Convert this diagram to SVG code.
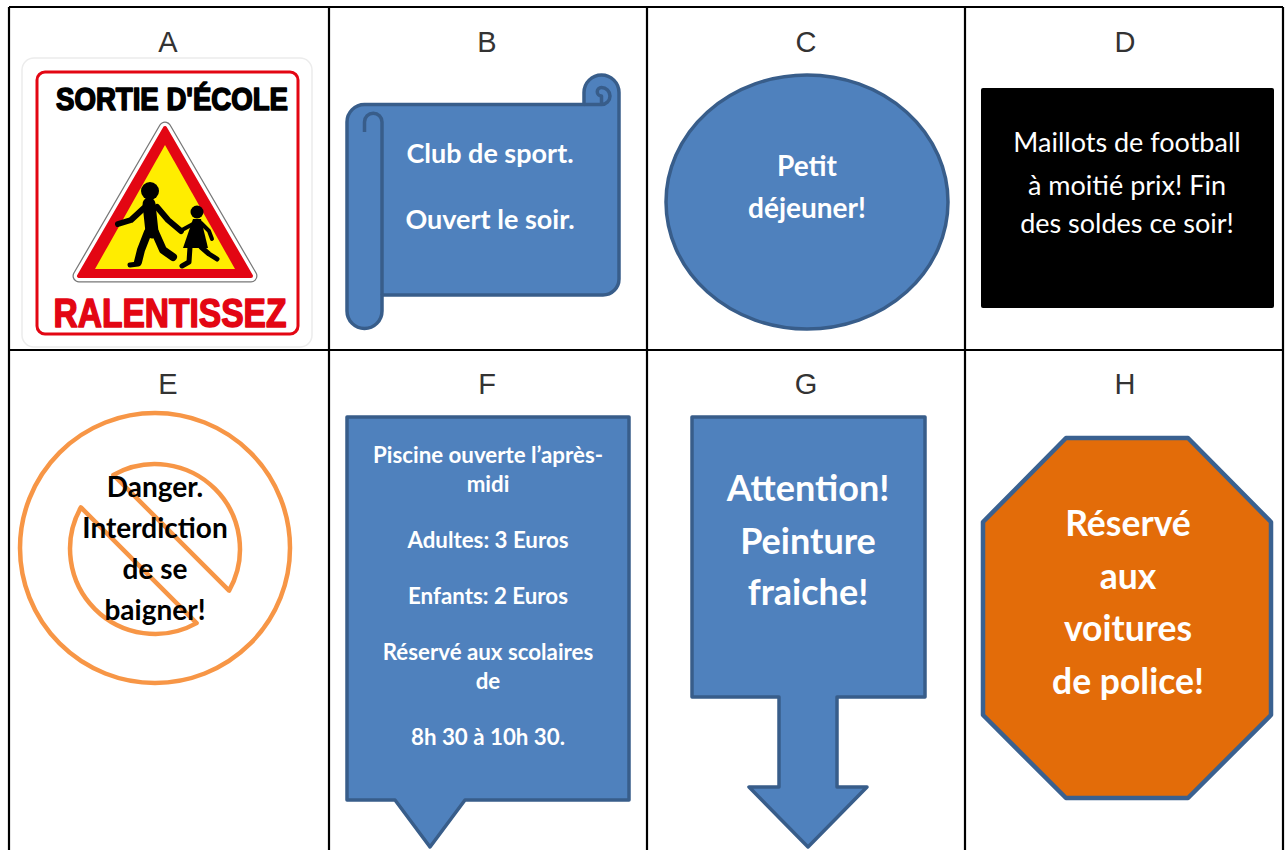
<svg xmlns="http://www.w3.org/2000/svg" width="1288" height="850" viewBox="0 0 1288 850">
<style>
.lbl{font-family:"Liberation Sans",Arial,sans-serif;font-size:29px;fill:#333;text-anchor:middle}
.cb{font-family:Lato,"Open Sans",sans-serif;font-weight:bold;text-anchor:middle}
.w{fill:#fff}
.blue{fill:#4f81bd;stroke:#385d8a;stroke-width:3.5;stroke-linejoin:round}
.grid{stroke:#000;stroke-width:2.2;fill:none}
.kid{stroke:#000;stroke-linecap:round;stroke-linejoin:round;fill:none}
</style>
<rect width="1288" height="850" fill="#fff"/>

<g id="grid" class="grid">
<path d="M9,7 H1283 M9,350 H1283 M9,7 V850 M329,7 V850 M647,7 V850 M965,7 V850 M1283,7 V850"/>
</g>

<g id="labels">
<text class="lbl" x="168" y="52">A</text>
<text class="lbl" x="487" y="52">B</text>
<text class="lbl" x="806" y="52">C</text>
<text class="lbl" x="1125" y="52">D</text>
<text class="lbl" x="168" y="394">E</text>
<text class="lbl" x="487" y="394">F</text>
<text class="lbl" x="806" y="394">G</text>
<text class="lbl" x="1125" y="394">H</text>
</g>

<g id="A">
<rect x="22" y="58" width="290" height="289" rx="12" fill="#fff" stroke="#ececec" stroke-width="1.5"/>
<rect x="37" y="72" width="261" height="262" rx="8" fill="#fff" stroke="#e30613" stroke-width="3"/>
<text x="172" y="110" font-family="'Liberation Sans',Arial,sans-serif" font-weight="bold" font-size="31" fill="#000" stroke="#000" stroke-width="1.6" stroke-linejoin="round" text-anchor="middle" textLength="232" lengthAdjust="spacingAndGlyphs">SORTIE D'ÉCOLE</text>
<polygon points="165,128 79,276 251,276" fill="#e30613" stroke="#777" stroke-width="13" stroke-linejoin="round"/>
<polygon points="165,128 79,276 251,276" fill="#e30613" stroke="#fff" stroke-width="10.5" stroke-linejoin="round"/>
<polygon points="165,128 79,276 251,276" fill="#e30613" stroke="#e30613" stroke-width="4" stroke-linejoin="round"/>
<polygon points="165,145 95,269 235,269" fill="#ffed00"/>
<circle cx="150" cy="191" r="9" fill="#000"/>
<path class="kid" stroke-width="13" d="M149,204 L152,232"/>
<path class="kid" stroke-width="6" d="M144,208 L131,220 L118,224"/>
<path class="kid" stroke-width="6" d="M157,207 L168,220 L181,231"/>
<path class="kid" stroke-width="8" d="M148,232 L141,250 L138,262"/>
<path class="kid" stroke-width="5" d="M138,264 L130,265"/>
<path class="kid" stroke-width="8" d="M155,232 L163,250 L173,257"/>
<circle cx="197" cy="212" r="6.5" fill="#000"/>
<path d="M193,219 L201,219 L208,248 L183,248 Z" fill="#000"/>
<path class="kid" stroke-width="4" d="M193,224 L182,230"/>
<path class="kid" stroke-width="4" d="M201,223 L209,231 L212,239"/>
<path class="kid" stroke-width="5" d="M190,247 L189,262 L182,266"/>
<path class="kid" stroke-width="5" d="M201,247 L209,254 L217,259"/>
<text x="170" y="327" font-family="'Liberation Sans',Arial,sans-serif" font-weight="bold" font-size="41" fill="#e30613" stroke="#e30613" stroke-width="1.6" stroke-linejoin="round" text-anchor="middle" textLength="233" lengthAdjust="spacingAndGlyphs">RALENTISSEZ</text>
</g>

<g id="B">
<path class="blue" d="M347,122 A17.5,17.5 0 0 1 364.5,104.5 L584,104.5 L584,92.5 A17.5,17.5 0 0 1 619,92.5 L619,279 A16,16 0 0 1 603,295 L382,295 L382,311 A17.5,17.5 0 0 1 347,311 Z"/>
<path d="M382,122 L382,295 M364.5,132 L364.5,122 A8.75,8.75 0 0 1 382,122 M584,104.5 L601.5,104.5 A8.5,8.5 0 0 0 601.5,87.5 A4.2,4.2 0 0 0 601.5,96 L601.5,104.5" fill="none" stroke="#385d8a" stroke-width="3.5" stroke-linejoin="round"/>
<text class="cb w" font-size="27" x="490" y="163">Club de sport.</text>
<text class="cb w" font-size="27" x="490" y="229">Ouvert le soir.</text>
</g>

<g id="C">
<ellipse class="blue" cx="807" cy="202" rx="141" ry="127"/>
<text class="cb w" font-size="28" x="807" y="176">Petit</text>
<text class="cb w" font-size="28" x="807" y="218">déjeuner!</text>
</g>

<g id="D">
<rect x="981" y="88" width="293" height="220" rx="2" fill="#000"/>
<g font-family="Lato,'Open Sans',sans-serif" font-size="27" fill="#fff" text-anchor="middle">
<text x="1127" y="152">Maillots de football</text>
<text x="1127" y="195">à moitié prix! Fin</text>
<text x="1127" y="233">des soldes ce soir!</text>
</g>
</g>

<g id="E">
<g fill="none" stroke="#f79646" stroke-width="4.5" stroke-linejoin="round">
<circle cx="155" cy="548" r="135"/>
<path d="M113.4,474.9 A85,85 0 0 1 229.1,590.6 Z"/>
<path d="M196.6,623.1 A85,85 0 0 1 80.9,507.4 Z"/>
</g>
<g class="cb" font-size="28" fill="#000">
<text x="155" y="497">Danger.</text>
<text x="155" y="538">Interdiction</text>
<text x="155" y="579">de se</text>
<text x="155" y="620">baigner!</text>
</g>
</g>

<g id="F">
<path class="blue" d="M347,417 L629,417 L629,800 L465,800 L430,847 L395,800 L347,800 Z"/>
<g class="cb w" font-size="22.3">
<text x="488" y="463">Piscine ouverte l’après-</text>
<text x="488" y="492">midi</text>
<text x="488" y="548">Adultes: 3 Euros</text>
<text x="488" y="604">Enfants: 2 Euros</text>
<text x="488" y="660">Réservé aux scolaires</text>
<text x="488" y="689">de</text>
<text x="488" y="745">8h 30 à 10h 30.</text>
</g>
</g>

<g id="G">
<path class="blue" d="M692,417 L925,417 L925,697 L837,697 L837,787 L867,787 L808,847 L749,787 L779,787 L779,697 L692,697 Z"/>
<g class="cb w" font-size="36">
<text x="808" y="501">Attention!</text>
<text x="808" y="554">Peinture</text>
<text x="808" y="605">fraiche!</text>
</g>
</g>

<g id="H">
<polygon points="1066,438 1188,438 1271,522 1271,715 1188,798 1066,798 983,715 983,522" fill="#e36c09" stroke="#3a6190" stroke-width="4.5" stroke-linejoin="round"/>
<g class="cb w" font-size="35.5">
<text x="1128" y="536">Réservé</text>
<text x="1128" y="589">aux</text>
<text x="1128" y="641">voitures</text>
<text x="1128" y="694">de police!</text>
</g>
</g>
</svg>
